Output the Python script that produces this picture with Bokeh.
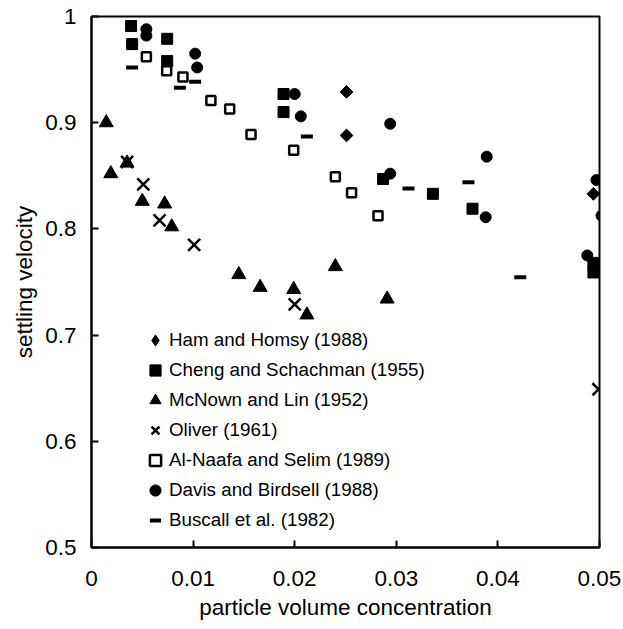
import numpy as np
from bokeh.plotting import figure
from bokeh.models import Range1d, FixedTicker, CustomJSTickFormatter, Legend, LegendItem
from bokeh.embed import file_html
from bokeh.resources import INLINE

# ---- data ----
ham_x = [0.0251, 0.0251, 0.0494]
ham_y = [0.929, 0.888, 0.833]

cheng_x = [0.0039, 0.0040, 0.00745, 0.00745, 0.0189, 0.0189, 0.0287, 0.0336, 0.0375, 0.0494, 0.0494]
cheng_y = [0.991, 0.974, 0.979, 0.958, 0.927, 0.910, 0.847, 0.833, 0.819, 0.768, 0.759]

mcnown_x = [0.00145, 0.0019, 0.0035, 0.0050, 0.0072, 0.0079, 0.0145, 0.0166, 0.0199, 0.0212, 0.0240, 0.0291]
mcnown_y = [0.900, 0.852, 0.862, 0.826, 0.8235, 0.802, 0.757, 0.745, 0.743, 0.719, 0.7645, 0.734]

oliver_x = [0.0035, 0.0051, 0.0067, 0.0101, 0.0200, 0.0499]
oliver_y = [0.863, 0.842, 0.808, 0.785, 0.729, 0.649]

alnaafa_x = [0.0054, 0.0074, 0.0090, 0.01175, 0.0136, 0.0157, 0.0199, 0.0240, 0.0256, 0.0282]
alnaafa_y = [0.962, 0.949, 0.943, 0.921, 0.913, 0.889, 0.874, 0.849, 0.834, 0.8125]

davis_x = [0.0054, 0.0054, 0.0102, 0.0104, 0.0200, 0.0206, 0.0294, 0.0294, 0.0389, 0.0388, 0.0497, 0.0502, 0.0488]
davis_y = [0.988, 0.982, 0.965, 0.952, 0.927, 0.906, 0.899, 0.852, 0.868, 0.811, 0.846, 0.8125, 0.775]

buscall_x = [0.0040, 0.0087, 0.0102, 0.0212, 0.0312, 0.0371, 0.0422]
buscall_y = [0.952, 0.933, 0.9386, 0.887, 0.838, 0.844, 0.7545]

series_labels = ["Ham and Homsy (1988)", "Cheng and Schachman (1955)", "McNown and Lin (1952)",
                 "Oliver (1961)", "Al-Naafa and Selim (1989)", "Davis and Birdsell (1988)",
                 "Buscall et al. (1982)"]

x_ticks = [0, 0.01, 0.02, 0.03, 0.04, 0.05]
y_ticks = [0.5, 0.6, 0.7, 0.8, 0.9, 1.0]

FONT = "Liberation Sans"

p = figure(width=623, height=629, output_backend="svg", toolbar_location=None,
           x_range=Range1d(0, 0.05), y_range=Range1d(0.5, 1.0),
           min_border_left=91, min_border_right=24, min_border_top=16, min_border_bottom=82)
p.xgrid.visible = False
p.ygrid.visible = False
p.outline_line_color = "black"
p.outline_line_width = 2
p.background_fill_color = "white"
p.border_fill_color = "white"

for ax in (p.xaxis[0], p.yaxis[0]):
    ax.axis_line_width = 2
    ax.axis_line_color = "black"
    ax.major_tick_line_width = 2
    ax.major_tick_line_color = "black"
    ax.major_tick_in = 7
    ax.major_tick_out = 0
    ax.minor_tick_line_color = None
    ax.major_label_text_font = FONT
    ax.major_label_text_font_size = "22.5px"
    ax.major_label_text_color = "black"
    ax.axis_label_text_font = FONT
    ax.axis_label_text_font_size = "22.5px"
    ax.axis_label_text_font_style = "normal"
    ax.axis_label_text_color = "black"

p.xaxis.ticker = FixedTicker(ticks=x_ticks)
p.yaxis.ticker = FixedTicker(ticks=y_ticks)
p.xaxis.formatter = CustomJSTickFormatter(code="return tick < 1e-9 ? '0' : tick.toFixed(2);")
p.yaxis.formatter = CustomJSTickFormatter(code="return Math.abs(tick-1) < 1e-9 ? '1' : tick.toFixed(1);")
p.xaxis.major_label_standoff = 23
p.yaxis.major_label_standoff = 15
p.xaxis.axis_label = "particle volume concentration"
p.yaxis.axis_label = "settling velocity"
p.xaxis.axis_label_standoff = 6
p.yaxis.axis_label_standoff = 5

# legend key for Ham and Homsy: a diamond marker hidden beneath the rotated-square data marks
r_ham_key = p.scatter(ham_x, ham_y, marker="diamond", size=8,
                      fill_color="black", line_color="black")
r_ham = p.scatter(ham_x, ham_y, marker="square", angle=np.pi / 4, size=9,
                  fill_color="black", line_color="black")
r_cheng = p.scatter(cheng_x, cheng_y, marker="square", size=11,
                    fill_color="black", line_color="black")
r_mc = p.scatter(mcnown_x, mcnown_y, marker="triangle", size=14,
                 fill_color="black", line_color="black")
r_ol = p.scatter(oliver_x, oliver_y, marker="x", size=17,
                 line_color="black", line_width=2.5)
r_al = p.scatter(alnaafa_x, alnaafa_y, marker="square", size=9,
                 fill_color="white", line_color="black", line_width=2.5)
r_dav = p.scatter(davis_x, davis_y, marker="circle", size=11,
                  fill_color="black", line_color="black")
r_bus = p.scatter(buscall_x, buscall_y, marker="dash", size=12,
                  line_color="black", line_width=4)

renderers = [r_ham_key, r_cheng, r_mc, r_ol, r_al, r_dav, r_bus]
legend = Legend(items=[LegendItem(label=l, renderers=[r]) for l, r in zip(series_labels, renderers)],
                location=(50, 13), padding=0, margin=0, spacing=2,
                glyph_width=28, glyph_height=28, label_height=28, label_standoff=0,
                label_text_font=FONT, label_text_font_size="18.8px", label_text_color="black",
                border_line_color=None, background_fill_alpha=0)
p.add_layout(legend, "center")

open("out.html", "w").write(file_html(p, INLINE))
